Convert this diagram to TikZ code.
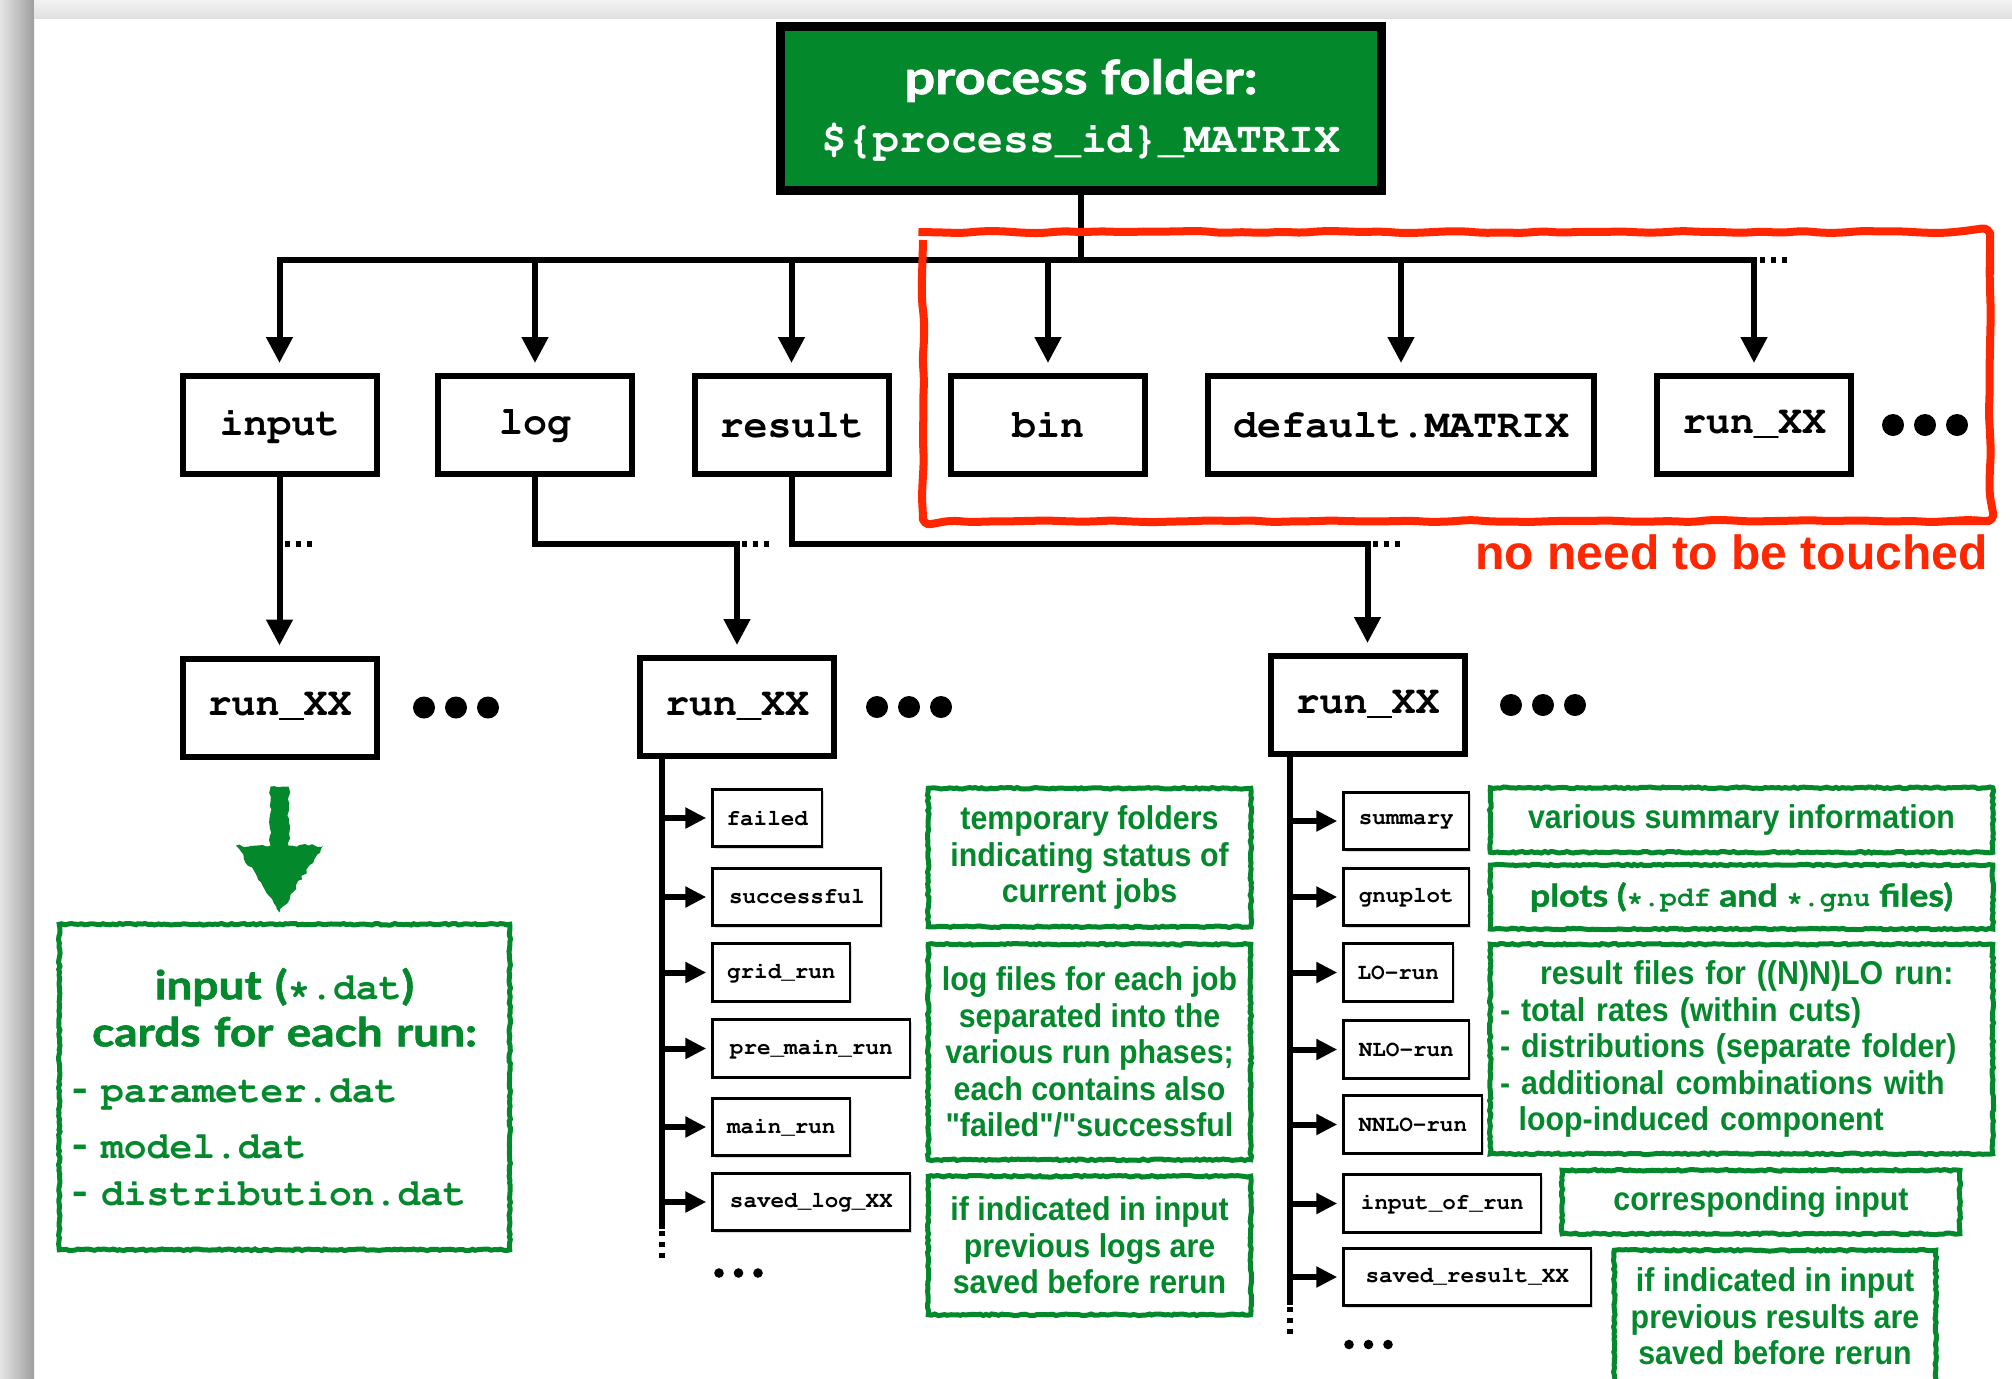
\documentclass[tikz,border=0pt]{standalone}
\usepackage[T1]{fontenc}
\usepackage{fontspec}
\newfontfamily\notefont{Liberation Sans}[FakeStretch=0.92]
\newfontfamily\hintfont{Liberation Sans}
\newfontfamily\gill{Lato}[FakeStretch=1.15, BoldFeatures={FakeBold=1.6}]
\newcommand\mono[1]{\fontencoding{T1}\fontfamily{pcr}\fontseries{b}\fontshape{n}\fontsize{#1}{#1}\selectfont}
\setlength\parindent{0pt}
\usetikzlibrary{arrows.meta,decorations.pathmorphing,shadows}
\definecolor{leaf}{RGB}{4,136,44}
\definecolor{alert}{RGB}{255,38,0}
\pgfmathsetseed{7}
\begin{document}
\begin{tikzpicture}[x=0.5pt, y=-0.5pt,
        wire/.style={line width=3pt, line cap=rect},
        feed/.style={wire, -{Triangle[width=12.75pt,length=13pt]}, shorten >=5pt},
        twig/.style={wire, -{Triangle[width=10pt,length=10.5pt]}, shorten >=2.5pt},
        etc/.style={line width=2.6pt, dash pattern=on 2.5pt off 3pt},
        box/.style={draw, line width=3pt, fill=white, inner sep=0pt, minimum width=97pt, minimum height=49pt, font=\mono{20},
            drop shadow={shadow xshift=1.2pt, shadow yshift=-1.2pt, opacity=.3}},
        sub/.style={draw, line width=1.3pt, fill=white, inner sep=0pt, anchor=west, minimum height=28.75pt, font=\mono{11.3},
            drop shadow={shadow xshift=1pt, shadow yshift=-1pt, opacity=.3}},
        note/.style={draw=leaf, text=leaf, line width=2.5pt, inner sep=0pt, align=center,
            decorate, decoration={random steps, segment length=1.6pt, amplitude=.4pt},
            font=\notefont\bfseries\fontsize{16.5}{18.25}\selectfont}
    ]
    \useasboundingbox (0,0) rectangle (2012,1378);
    \clip (0,0) rectangle (2012,1378);
    \fill[left color=black!10, right color=black!38] (0,0) rectangle (34,1378);
    \fill[top color=black!5, bottom color=black!12] (34,0) rectangle (2012,18);

    \node[box, fill=leaf, line width=4.5pt, minimum width=300.5pt, minimum height=82pt, text=white, align=center] (proc) at (1081,108.5)
        {{\gill\bfseries\fontsize{23.5}{23.5}\selectfont process folder:}\\[9pt]{\mono{21.6}\$\{process\_id\}\_MATRIX}};

    \node[box] (inp) at (279.5,425) {input};
    \node[box] (log) at (535,425) {log};
    \node[box] (res) at (791.5,425) {result};
    \node[box] (bin) at (1048,425) {bin};
    \node[box, minimum width=193pt] (dflt) at (1401,425) {default.MATRIX};
    \node[box] (runX) at (1754,425) {run\_XX};

    \coordinate (busL) at (279.5,260);
    \coordinate (busR) at (1754,260);
    \draw[wire] (proc) -- (proc |- busL);
    \draw[wire] (busL) -- (busR);
    \draw[etc] ([xshift=3pt]busR) -- ++(30,0);
    \foreach \n in {inp,log,res,bin,dflt,runX}
        \draw[feed] (busL -| \n) -- (\n);

    \node[box] (runA) at (279.5,707.5) {run\_XX};
    \node[box] (runB) at (737,707) {run\_XX};
    \node[box] (runC) at (1367.5,705) {run\_XX};

    \coordinate (forkA) at (279.5,544);
    \coordinate (forkB) at (737,544);
    \coordinate (forkC) at (1367.5,544);
    \draw[feed] (inp) -- (runA);
    \draw[wire] (log) |- (forkB);
    \draw[feed] (forkB) -- (runB);
    \draw[wire] (res) |- (forkC);
    \draw[feed] (forkC) -- (runC);
    \foreach \c in {forkA,forkB,forkC}
        \draw[etc] ([xshift=2.5pt]\c) -- ++(32,0);

    \coordinate (moreX) at (1893,425);
    \coordinate (moreA) at (424,707.5);
    \coordinate (moreB) at (877,707);
    \coordinate (moreC) at (1511,705);
    \foreach \c in {moreX,moreA,moreB,moreC}
        \foreach \k in {0,1,2}
            \fill ([xshift=\k*16pt]\c) circle (5.5pt);

    \fill[leaf, decorate, decoration={random steps, segment length=2pt, amplitude=.8pt}]
        (runA.south) ++(-9,27) -- ++(18,0) -- ++(0,59) -- ++(34.5,0) -- ++(-43.5,67)
        -- ++(-43.5,-67) -- ++(34.5,0) -- cycle;
    \node[note, minimum width=225.25pt, minimum height=162.75pt, text width=213pt, align=left,
        font=\gill\bfseries\fontsize{20}{23.5}\selectfont] (card) at (284.5,1087)
        {{\centering input ({\mono{19}*.dat})\par cards for each run:\par}
         \fontsize{19}{28}\selectfont -\ {\mono{19}parameter.dat}\par
         -\ {\mono{19}model.dat}\par
         -\ {\mono{19}distribution.dat}};

    \node[sub, minimum width=54.75pt] (fail) at (711.25,818) {failed};
    \node[sub, minimum width=84.25pt] (succ) at (711.25,897) {successful};
    \node[sub, minimum width=68.75pt] (grid) at (711.25,972.5) {grid\_run};
    \node[sub, minimum width=98.75pt] (prem) at (711.25,1048.5) {pre\_main\_run};
    \node[sub, minimum width=68.75pt] (mainr) at (711.25,1127) {main\_run};
    \node[sub, minimum width=98.75pt] (slog) at (711.25,1202) {saved\_log\_XX};
    \coordinate (trunkB) at (662,1226);
    \draw[wire] (runB.south -| trunkB) -- (trunkB);
    \draw[etc] (trunkB) ++(0,5) -- ++(0,32);
    \foreach \n in {fail,succ,grid,prem,mainr,slog}
        \draw[twig] (trunkB |- \n) -- (\n);

    \node[sub, minimum width=62.75pt] (summ) at (1342.25,821) {summary};
    \node[sub, minimum width=62.75pt] (gnup) at (1342.25,897) {gnuplot};
    \node[sub, minimum width=54.75pt] (lo) at (1342.25,972.5) {LO-run};
    \node[sub, minimum width=62.75pt] (nlo) at (1342.25,1049.5) {NLO-run};
    \node[sub, minimum width=69.25pt] (nnlo) at (1342.25,1124.5) {NNLO-run};
    \node[sub, minimum width=98.75pt] (inrun) at (1342.25,1203.5) {input\_of\_run};
    \node[sub, minimum width=123.75pt] (sres) at (1342.25,1277) {saved\_result\_XX};
    \coordinate (trunkC) at (1290,1302);
    \draw[wire] (runC.south -| trunkC) -- (trunkC);
    \draw[etc] (trunkC) ++(0,5) -- ++(0,32);
    \foreach \n in {summ,gnup,lo,nlo,nnlo,inrun,sres}
        \draw[twig] (trunkC |- \n) -- (\n);

    \coordinate (moreD) at (719,1273);
    \coordinate (moreE) at (1349,1344.5);
    \foreach \c in {moreD,moreE}
        \foreach \k in {0,1,2}
            \fill ([xshift=\k*9.75pt]\c) circle (2.4pt);

    \node[note, minimum width=161.25pt, minimum height=69.25pt] (tmpn) at (1089.5,857.5)
        {temporary folders\\indicating status of\\current jobs};
    \node[note, minimum width=161.25pt, minimum height=107.75pt] (logn) at (1089.5,1052)
        {log files for each job\\separated into the\\various run phases;\\each contains also\\"failed"/"successful};
    \node[note, minimum width=161.25pt, minimum height=69.25pt] (keepB) at (1089.5,1245.5)
        {if indicated in input\\previous logs are\\saved before rerun};

    \node[note, minimum width=251.25pt, minimum height=32.25pt] (summn) at (1741.5,820)
        {various summary information};
    \node[note, minimum width=251.25pt, minimum height=32pt] (plotn) at (1741.5,897)
        {\gill\bfseries\fontsize{15.5}{15.5}\selectfont plots ({\mono{14}*.pdf} and {\mono{14}*.gnu} files)};
    \node[note, minimum width=251.25pt, minimum height=104.75pt, text width=241.5pt, align=left] (resn) at (1741.5,1049)
        {\hspace*{20pt}result files for ((N)N)LO run:\\- total rates (within cuts)\\- distributions (separate folder)\\- additional combinations with\\\hspace*{9.3pt}loop-induced component};
    \node[note, minimum width=198.9pt, minimum height=31.75pt] (corr) at (1761,1202)
        {corresponding input};
    \node[note, minimum width=160.75pt, minimum height=66.25pt] (keepC) at (1775,1316.5)
        {if indicated in input\\previous results are\\saved before rerun};

    \draw[alert, line width=4pt, rounded corners=4pt, decorate, decoration={random steps, segment length=10pt, amplitude=.6pt}]
        (923,232) rectangle (1990,521);
    \node[font=\hintfont\bfseries\fontsize{24}{24}\selectfont, text=alert, anchor=base east, inner sep=0pt] (hint) at (1988,569)
        {no need to be touched};
\end{tikzpicture}
\end{document}
